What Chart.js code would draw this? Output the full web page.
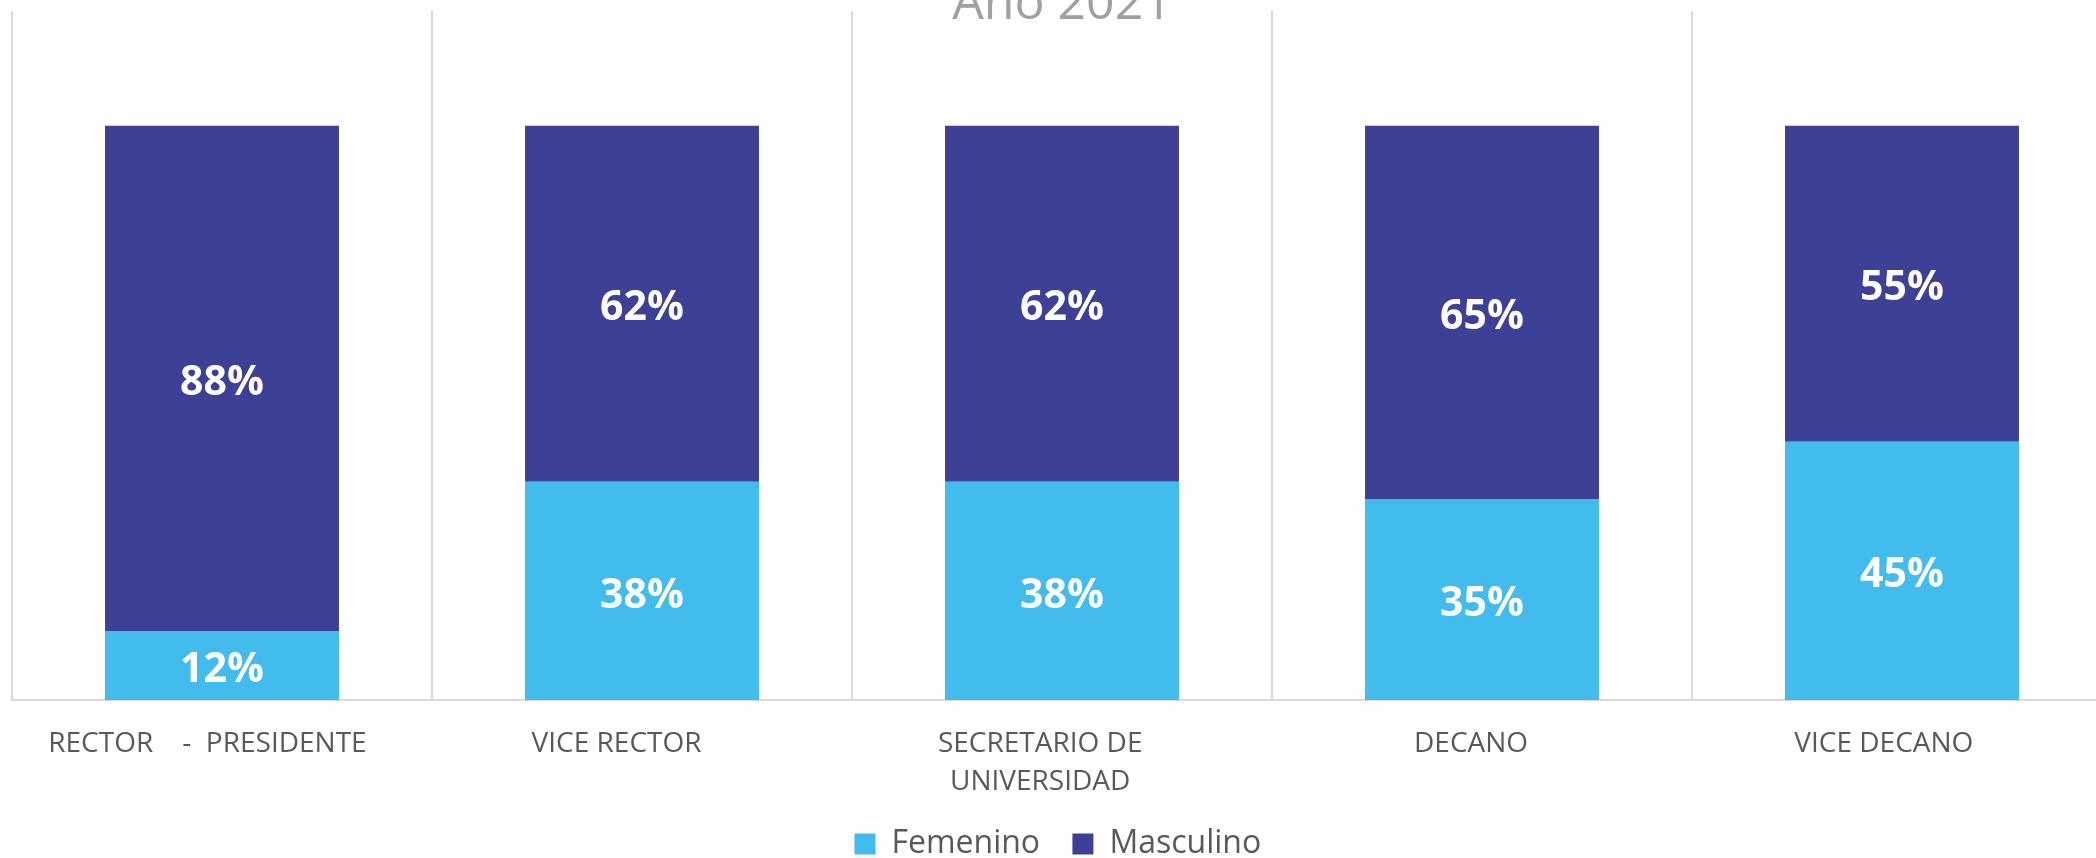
<!DOCTYPE html>
<html>
<head>
<meta charset="utf-8">
<script src="https://cdn.jsdelivr.net/npm/chart.js@4"></script>
<style>
  html, body { margin: 0; padding: 0; background: #ffffff; overflow: hidden; width: 2096px; height: 858px; }
  #wrap { position: absolute; left: 0; top: -14px; width: 2130px; height: 884px; }
</style>
</head>
<body>
<div id="wrap"><canvas id="c"></canvas></div>
<script>
const categories = [
  "RECTOR    -  PRESIDENTE    ",
  "VICE RECTOR       ",
  ["SECRETARIO DE      ", "UNIVERSIDAD      "],
  "DECANO   ",
  "VICE DECANO     "
];
const femenino = [12, 38, 38, 35, 45];
const masculino = [88, 62, 62, 65, 55];
const seriesNames = ["Femenino", "Masculino"];
const titleText = "Año 2021";

const valueLabels = {
  id: 'valueLabels',
  afterDatasetsDraw(chart) {
    const ctx = chart.ctx;
    ctx.save();
    ctx.fillStyle = '#ffffff';
    ctx.font = 'bold 41px "Open Sans"';
    ctx.textAlign = 'center';
    ctx.textBaseline = 'middle';
    chart.data.datasets.forEach((ds, di) => {
      const meta = chart.getDatasetMeta(di);
      meta.data.forEach((el, i) => {
        const v = ds.data[i];
        ctx.fillText(v + '%', el.x, (el.y + el.base) / 2 + 5);
      });
    });
    ctx.restore();
  }
};

new Chart(document.getElementById('c'), {
  type: 'bar',
  data: {
    labels: categories,
    datasets: [
      { label: seriesNames[0], data: femenino, backgroundColor: '#41BCEC', barPercentage: 0.557, categoryPercentage: 1 },
      { label: seriesNames[1], data: masculino, backgroundColor: '#3E4095', barPercentage: 0.557, categoryPercentage: 1 }
    ]
  },
  options: {
    responsive: true,
    maintainAspectRatio: false,
    animation: false,
    layout: { padding: { left: 12, right: 18, top: 0, bottom: 0 } },
    plugins: {
      title: {
        display: true, text: titleText, color: '#A0A0A0',
        font: { family: '"Open Sans"', size: 50, lineHeight: 0.5, weight: 'normal' },
        padding: { top: 6, bottom: -6 }
      },
      legend: {
        position: 'bottom',
        labels: {
          color: '#595959',
          font: { family: '"Open Sans"', size: 32 },
          boxWidth: 21, boxHeight: 21, padding: 24,
          generateLabels(chart) {
            const items = Chart.defaults.plugins.legend.labels.generateLabels(chart);
            items.forEach((it) => { it.text = it.text + ' '; });
            return items;
          }
        }
      },
      tooltip: { enabled: false }
    },
    scales: {
      x: {
        stacked: true,
        grid: { display: true, color: '#D9D9D9', lineWidth: 2, drawTicks: false, offset: true },
        border: { display: true, color: '#D9D9D9', width: 2 },
        ticks: { color: '#595959', font: { family: '"Open Sans"', size: 28, lineHeight: 1.36 }, padding: 25, maxRotation: 0, autoSkip: false },
        afterFit(scale) { scale.height = 104; }
      },
      y: {
        stacked: true, display: false, min: 0, max: 120
      }
    }
  },
  plugins: [valueLabels]
});
</script>
</body>
</html>
